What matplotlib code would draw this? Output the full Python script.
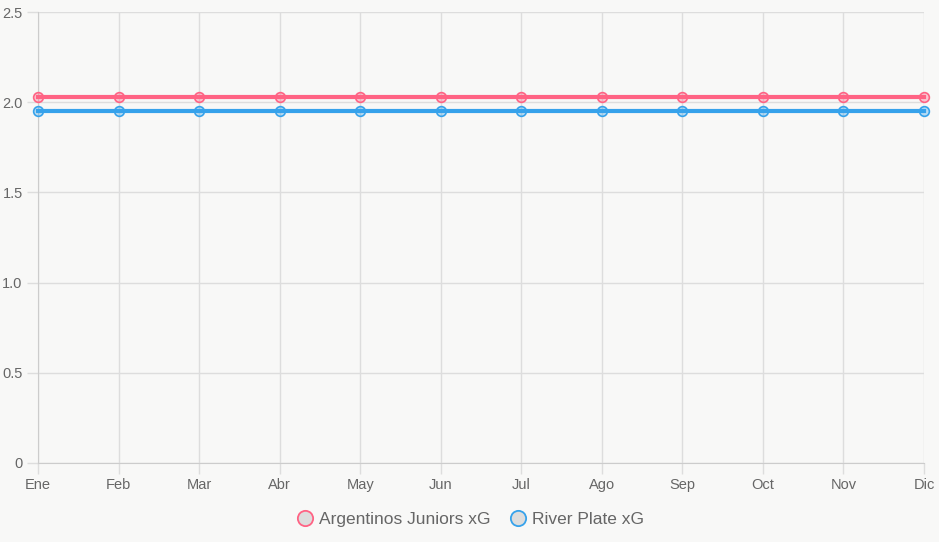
import numpy as np
import matplotlib
matplotlib.use('Agg')
import matplotlib.pyplot as plt
from matplotlib.lines import Line2D

meses = ['Ene', 'Feb', 'Mar', 'Abr', 'May', 'Jun', 'Jul', 'Ago', 'Sep', 'Oct', 'Nov', 'Dic']
argentinos_xg = [2.03] * 12
river_xg = [1.95] * 12
y_ticks = [0, 0.5, 1.0, 1.5, 2.0, 2.5]
y_labels = ['0', '0.5', '1.0', '1.5', '2.0', '2.5']

rojo = '#ff6384'
azul = '#36a2eb'
bg = '#f8f8f7'
grid_c = '#dddddd'
txt_c = '#666666'

plt.rcParams['font.family'] = ['Liberation Sans', 'DejaVu Sans']

fig = plt.figure(figsize=(9.39, 5.42), dpi=100, facecolor=bg)
ax = fig.add_axes([38 / 939, 1 - 463 / 542, (924 - 38) / 939, (463 - 12) / 542])
ax.set_facecolor(bg)

x = np.arange(len(meses))
for vals, c in [(argentinos_xg, rojo), (river_xg, azul)]:
    ax.plot(x, vals, color=c, lw=3, zorder=3, clip_on=False)
    ax.plot(x, vals, 'o', ms=7, mfc=c + '55', mec=c, mew=1.2, zorder=4, clip_on=False)

ax.set_xlim(0, len(meses) - 1)
ax.set_ylim(0, 2.5)
ax.set_xticks(x)
ax.set_xticklabels(meses)
ax.set_yticks(y_ticks)
ax.set_yticklabels(y_labels)
ax.grid(True, color=grid_c, lw=1)
ax.set_axisbelow(True)
for s in ax.spines.values():
    s.set_visible(False)
ax.spines['left'].set_visible(True)
ax.spines['bottom'].set_visible(True)
ax.spines['left'].set_color('#cccccc')
ax.spines['bottom'].set_color('#cccccc')
ax.tick_params(axis='both', colors=grid_c, length=8, width=1, labelcolor=txt_c, labelsize=10.5, pad=3)

handles = [
    Line2D([], [], ls='none', marker='o', ms=11, mfc='#dddddd', mec=rojo, mew=1.3),
    Line2D([], [], ls='none', marker='o', ms=11, mfc='#dddddd', mec=azul, mew=1.3),
]
fig.legend(handles, ['Argentinos Juniors xG', 'River Plate xG'], loc='center',
           bbox_to_anchor=(0.5, 1 - 519 / 542), ncol=2, frameon=False,
           fontsize=12.5, labelcolor=txt_c, handletextpad=0.2, columnspacing=1.0,
           handlelength=1.2)

fig.savefig('out.png', dpi=100, facecolor=bg)
